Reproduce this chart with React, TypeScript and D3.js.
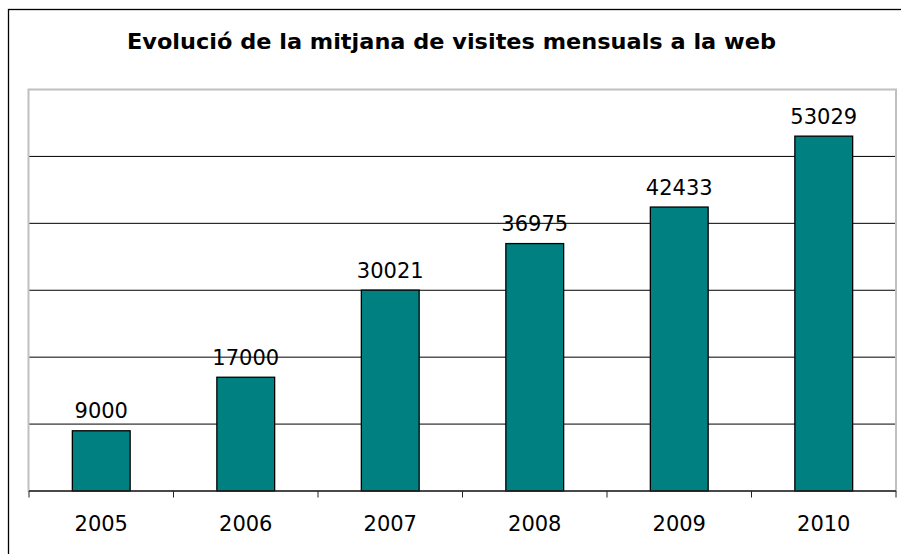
import React from "react";
import * as d3 from "d3";

const years = ["2005", "2006", "2007", "2008", "2009", "2010"];
const visits = [9000, 17000, 30021, 36975, 42433, 53029];
const yTicks = [0, 10000, 20000, 30000, 40000, 50000, 60000];
const title = "Evolució de la mitjana de visites mensuals a la web";

export default function App() {
  const W = 901, H = 554;
  const left = 29, right = 896, top = 89.5, bottom = 491;
  const x = d3.scaleBand().domain(years).range([left, right]).paddingInner(0.6).paddingOuter(0.3);
  const y = d3.scaleLinear().domain([0, 60000]).range([bottom, top]);
  const step = (right - left) / years.length;
  const font = "'DejaVu Sans', Verdana, sans-serif";
  return (
    <svg width={W} height={H} style={{ position: "absolute", left: 0, top: 0, background: "#fff" }}>
      <rect x={8.5} y={9.5} width={W} height={H} fill="#fff" stroke="#000" strokeWidth={1.3} />
      <text x={451.5} y={49} textAnchor="middle" fontFamily={font} fontWeight="bold" fontSize={21}
        textLength={649} lengthAdjust="spacingAndGlyphs" fill="#000">{title}</text>
      {yTicks.slice(1, -1).map((t) => (
        <line key={t} x1={left} x2={right} y1={y(t)} y2={y(t)} stroke="#000" strokeWidth={1} />
      ))}
      <rect x={left - 0.5} y={top} width={right - left + 0.5} height={bottom - top} fill="none" stroke="#c0c0c0" strokeWidth={2} />
      {visits.map((v, i) => (
        <rect key={years[i]} x={x(years[i])!} y={y(v)} width={x.bandwidth()} height={bottom - y(v)}
          fill="#008080" stroke="#000" strokeWidth={1.3} />
      ))}
      <line x1={left} x2={right} y1={bottom} y2={bottom} stroke="#222" strokeWidth={1.6} />
      {d3.range(years.length + 1).map((i) => (
        <line key={i} x1={left + i * step} x2={left + i * step} y1={bottom} y2={bottom + 6.5} stroke="#222" strokeWidth={1} />
      ))}
      {visits.map((v, i) => (
        <text key={"v" + i} x={x(years[i])! + x.bandwidth() / 2} y={y(v) - 12.5} textAnchor="middle"
          fontFamily={font} fontSize={21} fill="#000">{String(v)}</text>
      ))}
      {years.map((yr) => (
        <text key={"y" + yr} x={x(yr)! + x.bandwidth() / 2} y={530.5} textAnchor="middle"
          fontFamily={font} fontSize={21} fill="#000">{yr}</text>
      ))}
    </svg>
  );
}
